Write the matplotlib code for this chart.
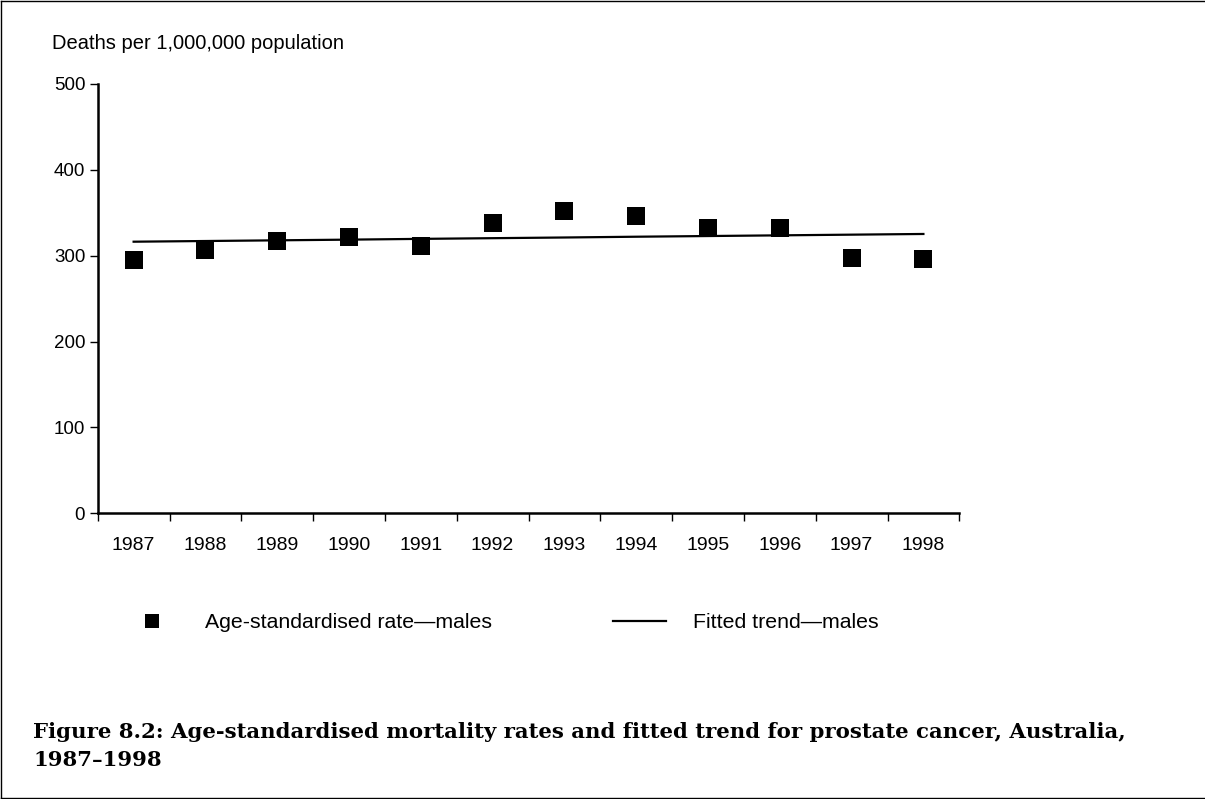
import matplotlib
matplotlib.use('Agg')
import matplotlib.pyplot as plt
from matplotlib.lines import Line2D

years = ['1987', '1988', '1989', '1990', '1991', '1992',
         '1993', '1994', '1995', '1996', '1997', '1998']
rate_males = [295.3, 306.9, 317.5, 322.0, 311.7, 337.5,
              352.3, 346.6, 332.5, 332.5, 297.7, 296.5]
trend_males = [316.3, 317.1, 317.9, 318.7, 319.6, 320.4,
               321.2, 322.1, 322.9, 323.7, 324.5, 325.3]
yticks = [0, 100, 200, 300, 400, 500]

plt.rcParams['font.family'] = ['Liberation Sans', 'DejaVu Sans']

fig = plt.figure(figsize=(12.05, 7.99), dpi=100)
ax = fig.add_axes([0.0811, 0.3576, 0.7150, 0.5373])

x = list(range(len(years)))
ax.plot(x, trend_males, '-', color='black', lw=1.6)
ax.plot(x, rate_males, 's', color='black', ms=12.5, mew=0)

ax.set_xlim(-0.5, len(years) - 0.5)
ax.set_ylim(0, 500)
ax.set_yticks(yticks)
ax.set_xticks([i - 0.5 for i in range(len(years) + 1)])
ax.set_xticklabels([])
ax.set_xticks(x, minor=True)
ax.set_xticklabels(years, minor=True)
ax.tick_params(axis='x', which='major', length=6, width=1, direction='out')
ax.tick_params(axis='x', which='minor', length=0, pad=17, labelsize=14)
ax.tick_params(axis='y', length=6, width=1, pad=3, labelsize=13.5)
for s in ['top', 'right']:
    ax.spines[s].set_visible(False)
for s in ['left', 'bottom']:
    ax.spines[s].set_linewidth(1.8)

fig.text(0.0432, 0.945, 'Deaths per 1,000,000 population', fontsize=14.5, va='center')

h_rate = Line2D([], [], marker='s', color='black', ls='none', ms=10, mew=0)
h_trend = Line2D([], [], color='black', lw=1.6)
fig.legend([h_rate, h_trend],
           ['Age-standardised rate\u2014males', 'Fitted trend\u2014males'],
           ncol=2, loc='center left', bbox_to_anchor=(0.1041, 0.2203),
           frameon=False, fontsize=15.3, handlelength=2.5, handletextpad=1.25,
           columnspacing=5.7, borderpad=0, borderaxespad=0)

cap_font = dict(fontsize=15.35, fontweight='bold',
                family=['DejaVu Serif', 'Liberation Serif'], va='center')
fig.text(0.0274, 0.0839, 'Figure 8.2: Age-standardised mortality rates and fitted trend for prostate cancer, Australia,',
         **cap_font)
fig.text(0.0274, 0.0488, '1987\u20131998', **cap_font)

# frame around the figure (left, top, bottom)
fig.add_artist(Line2D([0.001, 0.001], [0.0015, 0.9985], color='black', lw=1))
fig.add_artist(Line2D([0.001, 1.0], [0.9985, 0.9985], color='black', lw=1))
fig.add_artist(Line2D([0.001, 1.0], [0.0015, 0.0015], color='black', lw=1))

fig.savefig('out.png', dpi=100)
